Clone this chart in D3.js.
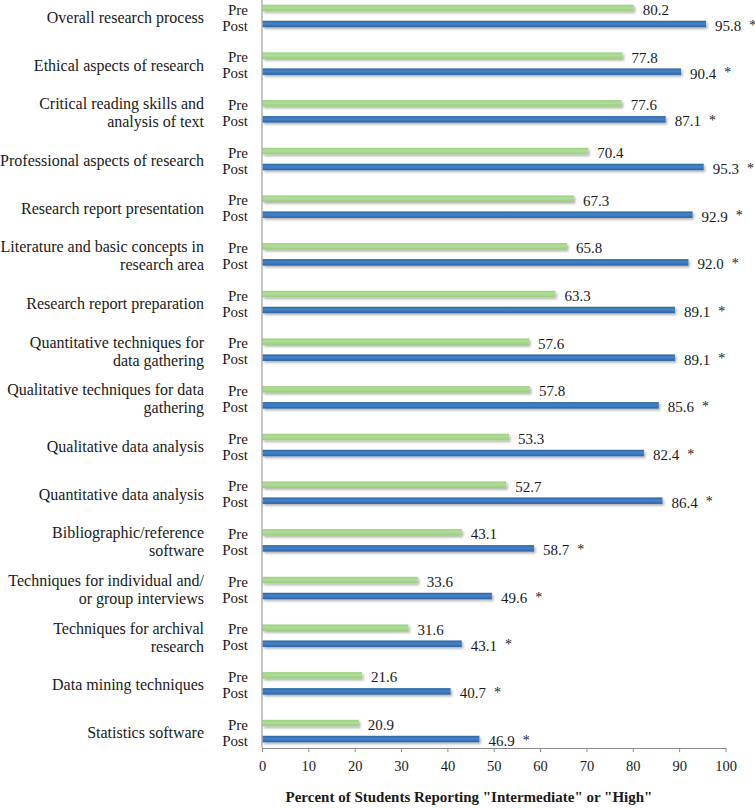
<!DOCTYPE html>
<html>
<head>
<meta charset="utf-8">
<script src="https://cdn.jsdelivr.net/npm/d3@7"></script>
<style>
  html, body { margin: 0; padding: 0; background: #fff; }
  svg { display: block; }
  svg text { font-family: "Liberation Serif", serif; }
</style>
</head>
<body>
<svg id="chart" width="755" height="808"></svg>
<script>
const categories = [
  "Overall research process",
  "Ethical aspects of research",
  "Critical reading skills and\nanalysis of text",
  "Professional aspects of research",
  "Research report presentation",
  "Literature and basic concepts in\nresearch area",
  "Research report preparation",
  "Quantitative techniques for\ndata gathering",
  "Qualitative techniques for data\ngathering",
  "Qualitative data analysis",
  "Quantitative data analysis",
  "Bibliographic/reference\nsoftware",
  "Techniques for individual and/\nor group interviews",
  "Techniques for archival\nresearch",
  "Data mining techniques",
  "Statistics software"
];
const preValues  = [80.2, 77.8, 77.6, 70.4, 67.3, 65.8, 63.3, 57.6, 57.8, 53.3, 52.7, 43.1, 33.6, 31.6, 21.6, 20.9];
const postValues = [95.8, 90.4, 87.1, 95.3, 92.9, 92.0, 89.1, 89.1, 85.6, 82.4, 86.4, 58.7, 49.6, 43.1, 40.7, 46.9];
const postMarks  = ["*", "*", "*", "*", "*", "*", "*", "*", "*", "*", "*", "*", "*", "*", "*", "*"];
const seriesNames = ["Pre", "Post"];
const xTicks = [0, 10, 20, 30, 40, 50, 60, 70, 80, 90, 100];
const xTitle = 'Percent of Students Reporting "Intermediate" or "High"';

const FONT = "Liberation Serif";
const svg = d3.select("#chart").attr("font-family", FONT);
const plotLeft = 262, plotRight = 725.5, plotBottom = 748;
const step = 47.67, firstCenter = 16;

const x = d3.scaleLinear().domain([0, 100]).range([plotLeft, plotRight]);
const y = d3.scaleBand().domain(categories)
  .range([firstCenter - step / 2, firstCenter - step / 2 + step * categories.length]).padding(0);
const ySub = d3.scaleBand().domain(seriesNames).range([-16, 16]).padding(0);
const barH = 6.5;

const defs = svg.append("defs");
const f = defs.append("filter").attr("id", "shadow").attr("x", "-5%").attr("y", "-100%").attr("width", "110%").attr("height", "300%");
f.append("feDropShadow").attr("dx", 1.5).attr("dy", 1.8).attr("stdDeviation", 0.9)
  .attr("flood-color", "#000").attr("flood-opacity", 0.3);

const gBlue = defs.append("linearGradient").attr("id", "gPost").attr("x1", 0).attr("y1", 0).attr("x2", 0).attr("y2", 1);
gBlue.append("stop").attr("offset", "0%").attr("stop-color", "#2c649f");
gBlue.append("stop").attr("offset", "45%").attr("stop-color", "#4484cc");
gBlue.append("stop").attr("offset", "100%").attr("stop-color", "#2c63a0");
const gGreen = defs.append("linearGradient").attr("id", "gPre").attr("x1", 0).attr("y1", 0).attr("x2", 0).attr("y2", 1);
gGreen.append("stop").attr("offset", "0%").attr("stop-color", "#9bd07f");
gGreen.append("stop").attr("offset", "45%").attr("stop-color", "#b0dd98");
gGreen.append("stop").attr("offset", "100%").attr("stop-color", "#98cc7c");

const rows = categories.map((c, i) => ({ cat: c, Pre: preValues[i], Post: postValues[i], mark: postMarks[i] }));

const groups = svg.append("g").selectAll("g").data(rows).join("g")
  .attr("transform", d => `translate(0,${y(d.cat) + y.bandwidth() / 2})`);

seriesNames.forEach(s => {
  groups.append("rect")
    .attr("x", x(0) + 0.5)
    .attr("y", ySub(s) + ySub.bandwidth() / 2 - barH / 2)
    .attr("width", d => x(d[s]) - x(0) - 0.5)
    .attr("height", barH)
    .attr("fill", `url(#g${s})`)
    .attr("filter", "url(#shadow)");

  groups.append("text")
    .attr("x", 248)
    .attr("y", ySub(s) + ySub.bandwidth() / 2 + 1.5)
    .attr("text-anchor", "end")
    .attr("dominant-baseline", "central")
    .attr("font-family", FONT)
    .attr("font-size", 15)
    .attr("fill", "#1a1a1a")
    .text(s);

  groups.append("text")
    .attr("class", "val" + s)
    .attr("x", d => x(d[s]) + 9)
    .attr("y", ySub(s) + ySub.bandwidth() / 2 + 2)
    .attr("dominant-baseline", "central")
    .attr("font-family", FONT)
    .attr("font-size", 15)
    .attr("fill", "#1a1a1a")
    .text(d => d[s].toFixed(1));
});

groups.append("text")
  .attr("x", function (d) {
    const t = d3.select(this.parentNode).select("text.valPost").node();
    return x(d.Post) + 9 + t.getComputedTextLength() + 8;
  })
  .attr("y", ySub("Post") + ySub.bandwidth() / 2 + 1)
  .attr("dominant-baseline", "central")
  .attr("font-family", FONT)
  .attr("font-size", 14)
  .attr("fill", "#1a1a1a")
  .text(d => d.mark);

groups.each(function (d) {
  const lines = d.cat.split("\n");
  const lh = 18;
  const t = d3.select(this).append("text")
    .attr("text-anchor", "end")
    .attr("font-family", FONT)
    .attr("font-size", 16)
    .attr("fill", "#1a1a1a");
  lines.forEach((ln, k) => {
    t.append("tspan")
      .attr("x", 204)
      .attr("y", 1.5 + (k - (lines.length - 1) / 2) * lh)
      .attr("dominant-baseline", "central")
      .text(ln);
  });
});

svg.append("line")
  .attr("x1", plotLeft).attr("x2", plotLeft)
  .attr("y1", 0).attr("y2", plotBottom)
  .attr("stroke", "#8c8c8c").attr("stroke-width", 1);

const xAxis = svg.append("g")
  .attr("transform", `translate(0,${plotBottom})`)
  .call(d3.axisBottom(x).tickValues(xTicks).tickSize(4).tickSizeOuter(0).tickPadding(9));
xAxis.attr("font-family", FONT);
xAxis.select(".domain").attr("stroke", "#8c8c8c");
xAxis.selectAll(".tick line").attr("stroke", "#8c8c8c");
xAxis.selectAll(".tick text")
  .attr("font-family", FONT)
  .attr("font-size", 14.5).attr("fill", "#1a1a1a");

svg.append("text")
  .attr("x", 469)
  .attr("y", 797)
  .attr("text-anchor", "middle")
  .attr("dominant-baseline", "central")
  .attr("font-family", FONT)
  .attr("font-size", 15)
  .attr("font-weight", "bold")
  .attr("fill", "#1a1a1a")
  .text(xTitle);
</script>
</body>
</html>
